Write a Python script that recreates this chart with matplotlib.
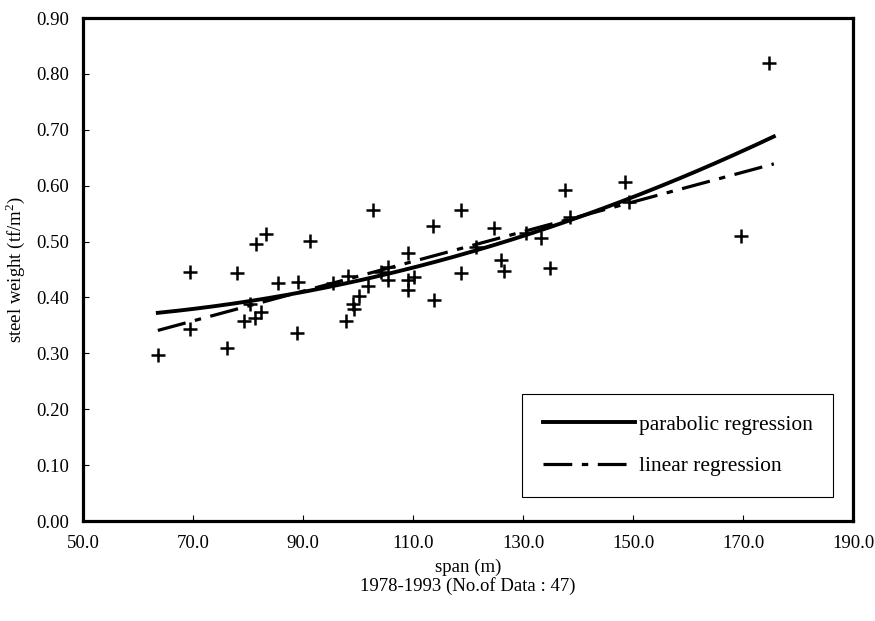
import numpy as np
import matplotlib
matplotlib.use("Agg")
import matplotlib.pyplot as plt
from matplotlib.ticker import FormatStrFormatter

plt.rcParams['font.family'] = ['Liberation Serif', 'DejaVu Serif']
plt.rcParams['mathtext.fontset'] = 'custom'
plt.rcParams['mathtext.rm'] = 'Liberation Serif'

# span (m) and steel weight (tf/m2) of the 47 bridges
span = [63.6, 69.4, 69.5, 76.1, 78.0, 79.2, 80.3, 81.2, 81.4, 82.4,
        83.2, 85.4, 88.9, 89.1, 91.2, 95.5, 97.8, 98.1, 99.0, 99.2,
        100.2, 101.9, 102.8, 104.2, 105.4, 105.5, 109.0, 109.0, 109.0, 110.1,
        113.7, 113.8, 118.8, 118.8, 121.4, 124.8, 126.0, 126.6, 130.5, 133.2,
        134.9, 137.6, 138.6, 148.6, 149.2, 169.6, 174.7]
weight = [0.297, 0.343, 0.445, 0.310, 0.444, 0.357, 0.389, 0.363, 0.495, 0.374,
          0.513, 0.425, 0.336, 0.427, 0.501, 0.425, 0.357, 0.438, 0.389, 0.380,
          0.403, 0.420, 0.556, 0.445, 0.455, 0.432, 0.479, 0.431, 0.413, 0.436,
          0.528, 0.395, 0.556, 0.443, 0.491, 0.524, 0.467, 0.448, 0.515, 0.507,
          0.453, 0.592, 0.544, 0.607, 0.571, 0.510, 0.819]

x = np.array(span)
y = np.array(weight)

# regressions fitted on the data
xs = np.linspace(x.min(), x.max() + 0.9, 200)
para = np.polyval(np.polyfit(x, y, 2), xs)
lin = np.polyval(np.polyfit(x, y, 1), xs)

fig = plt.figure(figsize=(8.75, 6.21), dpi=100)
ax = fig.add_axes([0.0949, 0.161, 0.880, 0.810])

ax.plot(x, y, '+', color='black', ms=10, mew=1.8, zorder=3)
ax.plot(xs, para, '-', color='black', lw=2.8, label='parabolic regression')
ax.plot(xs, lin, color='black', lw=2.3, dashes=(9, 3, 2, 3),
        label='linear regression')

ax.set_xlim(50, 190)
ax.set_ylim(0, 0.9)
ax.set_xticks(np.arange(50, 191, 20))
ax.set_yticks(np.arange(0, 0.91, 0.1))
ax.xaxis.set_major_formatter(FormatStrFormatter('%.1f'))
ax.yaxis.set_major_formatter(FormatStrFormatter('%.2f'))
ax.tick_params(direction='in', length=4, width=0.8, labelsize=13.5, pad=10)
for s in ax.spines.values():
    s.set_linewidth(2.3)

ax.set_xlabel('span (m)\n1978-1993 (No.of Data : 47)', fontsize=13.5,
              labelpad=5, linespacing=1.05)
ax.set_ylabel('steel weight (tf/m$^2$)', fontsize=13.5, labelpad=7)

leg = ax.legend(loc='lower right', bbox_to_anchor=(0.974, 0.048),
                borderaxespad=0, fontsize=15.5, handlelength=4.3,
                handletextpad=0.15, labelspacing=1.0, borderpad=0.95,
                fancybox=False, framealpha=1)
leg.get_frame().set_edgecolor('black')
leg.get_frame().set_linewidth(0.8)

fig.savefig('out.png', dpi=100)
